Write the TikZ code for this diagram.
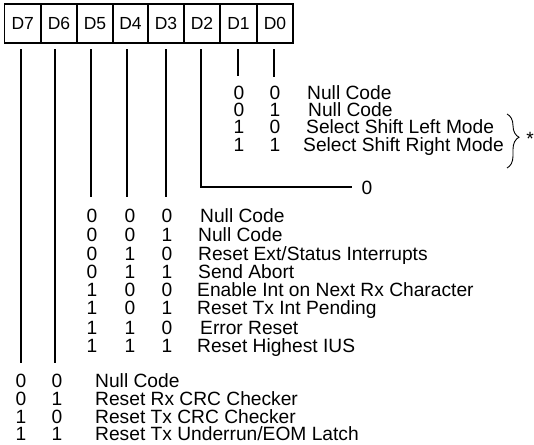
\documentclass[tikz,border=0pt]{standalone}
\usepackage{fontspec}
\setmainfont{Liberation Sans}
\usetikzlibrary{decorations.pathreplacing}
\begin{document}
\begin{tikzpicture}[x=1pt,y=-1pt,
  txt/.style={font=\fontsize{19.2}{19.2}\selectfont, inner sep=0pt, anchor=base west},
  bit/.style={font=\fontsize{19.2}{19.2}\selectfont, inner sep=0pt, anchor=base},
  cellbox/.style={draw, line width=1.8pt, minimum height=38.5pt, inner sep=0pt,
    font=\fontsize{17.5}{17.5}\selectfont},
  wire/.style={line width=2.2pt},
  bracestyle/.style={line width=0.9pt, decorate, decoration={brace, amplitude=12pt, aspect=0.43}}]
\useasboundingbox (0,0) rectangle (534,444);
% register cells
\node[cellbox, minimum width=36.5pt] (d7) at (22.75,23.5) {D7};
\node[cellbox, minimum width=36pt]   (d6) at (59,23.5) {D6};
\node[cellbox, minimum width=36pt]   (d5) at (95,23.5) {D5};
\node[cellbox, minimum width=35pt]   (d4) at (130.5,23.5) {D4};
\node[cellbox, minimum width=36pt]   (d3) at (166,23.5) {D3};
\node[cellbox, minimum width=36pt]   (d2) at (202,23.5) {D2};
\node[cellbox, minimum width=37pt]   (d1) at (238.5,23.5) {D1};
\node[cellbox, minimum width=36pt]   (d0) at (275,23.5) {D0};
% wire end points
\coordinate (w7t) at (21,49);  \coordinate (w7b) at (21,363);
\coordinate (w6t) at (55,49);  \coordinate (w6b) at (55,363);
\coordinate (w5t) at (91,49);  \coordinate (w5b) at (91,197);
\coordinate (w4t) at (127,49); \coordinate (w4b) at (127,197);
\coordinate (w3t) at (166,49); \coordinate (w3b) at (166,197);
\coordinate (w2t) at (201,49); \coordinate (w2e) at (352,187);
\coordinate (w1t) at (238,49); \coordinate (w1b) at (238,76);
\coordinate (w0t) at (274,49); \coordinate (w0b) at (274,77);
\draw[wire] (w7t) -- (w7b);
\draw[wire] (w6t) -- (w6b);
\draw[wire] (w5t) -- (w5b);
\draw[wire] (w4t) -- (w4b);
\draw[wire] (w3t) -- (w3b);
\draw[wire] (w2t) |- (w2e);
\draw[wire] (w1t) -- (w1b);
\draw[wire] (w0t) -- (w0b);
\node[bit] (z2) at (367,194) {0};
% D1 D0 group
\node[bit] (a11) at (239,99) {0}; \node[bit] (a12) at (275,99) {0}; \node[txt] (a1) at (307,99) {Null Code};
\node[bit] (a21) at (239,116) {0}; \node[bit] (a22) at (275,116) {1}; \node[txt] (a2) at (308,116) {Null Code};
\node[bit] (a31) at (239,133) {1}; \node[bit] (a32) at (275,133) {0}; \node[txt] (a3) at (306,133) {Select Shift Left Mode};
\node[bit] (a41) at (239,151) {1}; \node[bit] (a42) at (275,151) {1}; \node[txt] (a4) at (303,151) {Select Shift Right Mode};
\draw[bracestyle] (507,114) -- (507,168);
\node[bit] (ast) at (530,145) {*};
% D5 D4 D3 group
\node[bit] at (92,222) {0}; \node[bit] at (130,222) {0}; \node[bit] at (167,222) {0}; \node[txt] (b1) at (200,222) {Null Code};
\node[bit] at (92,241) {0}; \node[bit] at (130,241) {0}; \node[bit] at (167,241) {1}; \node[txt] (b2) at (198,241) {Null Code};
\node[bit] at (92,260) {0}; \node[bit] at (130,260) {1}; \node[bit] at (167,260) {0}; \node[txt] (b3) at (198,260) {Reset Ext/Status Interrupts};
\node[bit] at (92,278) {0}; \node[bit] at (130,278) {1}; \node[bit] at (167,278) {1}; \node[txt] (b4) at (198,278) {Send Abort};
\node[bit] at (92,296) {1}; \node[bit] at (130,296) {0}; \node[bit] at (167,296) {0}; \node[txt] (b5) at (197,296) {Enable Int on Next Rx Character};
\node[bit] at (92,314) {1}; \node[bit] at (130,314) {0}; \node[bit] at (167,314) {1}; \node[txt] (b6) at (197,314) {Reset Tx Int Pending};
\node[bit] at (92,334) {1}; \node[bit] at (130,334) {1}; \node[bit] at (167,334) {0}; \node[txt] (b7) at (200,334) {Error Reset};
\node[bit] at (92,352) {1}; \node[bit] at (130,352) {1}; \node[bit] at (167,352) {1}; \node[txt] (b8) at (197,352) {Reset Highest IUS};
% D7 D6 group
\node[bit] at (21,387) {0}; \node[bit] at (57,387) {0}; \node[txt] (c1) at (95,387) {Null Code};
\node[bit] at (21,405) {0}; \node[bit] at (57,405) {1}; \node[txt] (c2) at (95,405) {Reset Rx CRC Checker};
\node[bit] at (21,423) {1}; \node[bit] at (57,423) {0}; \node[txt] (c3) at (95,423) {Reset Tx CRC Checker};
\node[bit] at (21,440) {1}; \node[bit] at (57,440) {1}; \node[txt] (c4) at (95,440) {Reset Tx Underrun/EOM Latch};
\end{tikzpicture}
\end{document}
